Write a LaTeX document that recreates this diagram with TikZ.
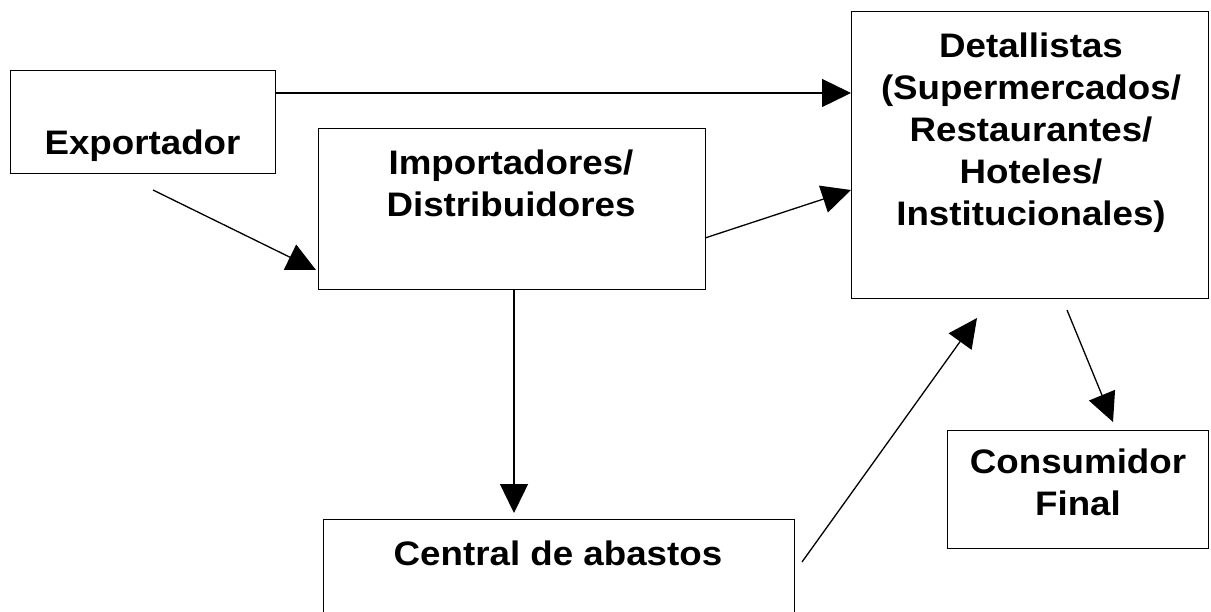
\documentclass[tikz,border=0pt]{standalone}
\usepackage{fontspec}
\setmainfont{Liberation Sans}[FakeStretch=1.08]
\usetikzlibrary{arrows.meta}
\tikzset{
  box/.style={draw=black, line width=1.3pt, rectangle, inner sep=0pt, anchor=north west},
  lbl/.style={inner sep=0pt, align=center, font=\bfseries\fontsize{34}{42}\selectfont},
  arr/.style={line width=1.3pt, -{Triangle[length=29pt,width=28pt]}}
}
\begin{document}
\begin{tikzpicture}[x=1pt,y=-1pt]
\useasboundingbox (0,0) rectangle (1211,611);
\clip (0,0) rectangle (1211,611);
% boxes
\node[box, minimum width=265pt, minimum height=103pt] (exp) at (10,70) {};
\node[box, minimum width=387pt, minimum height=161pt] (imp) at (318,128) {};
\node[box, minimum width=357pt, minimum height=287pt] (det) at (851,11) {};
\node[box, minimum width=471pt, minimum height=130pt] (cen) at (323,519) {};
\node[box, minimum width=261pt, minimum height=118pt] (con) at (947,430) {};
% labels
\node[lbl, anchor=base] (texp) at (142.5,154) {Exportador};
\node[lbl, anchor=north] (timp) at (511,149.5) {Importadores/\\Distribuidores};
\node[lbl, anchor=north] (tdet) at (1031,32.5) {Detallistas\\(Supermercados/\\Restaurantes/\\Hoteles/\\Institucionales)};
\node[lbl, anchor=base] (tcen) at (558,565) {Central de abastos};
\node[lbl, anchor=north] (tcon) at (1078,448.5) {Consumidor\\Final};
% free ends
\coordinate (s2) at (153,190);
\coordinate (e2) at (316,270);
\coordinate (s3) at (705,238);
\coordinate (s5) at (802,562);
\coordinate (e5) at (977,318);
\coordinate (s6) at (1067,310);
\coordinate (e6) at (1113,422);
% connectors
\draw[arr] (exp.east |- 0,93) -- (det.west |- 0,93);
\draw[arr] (s2) -- (e2);
\draw[arr] (s3) -- (det.west |- 0,190);
\draw[arr] (imp.south -| 514,0) -- (514,513);
\draw[arr] (s5) -- (e5);
\draw[arr] (s6) -- (e6);
\end{tikzpicture}
\end{document}
